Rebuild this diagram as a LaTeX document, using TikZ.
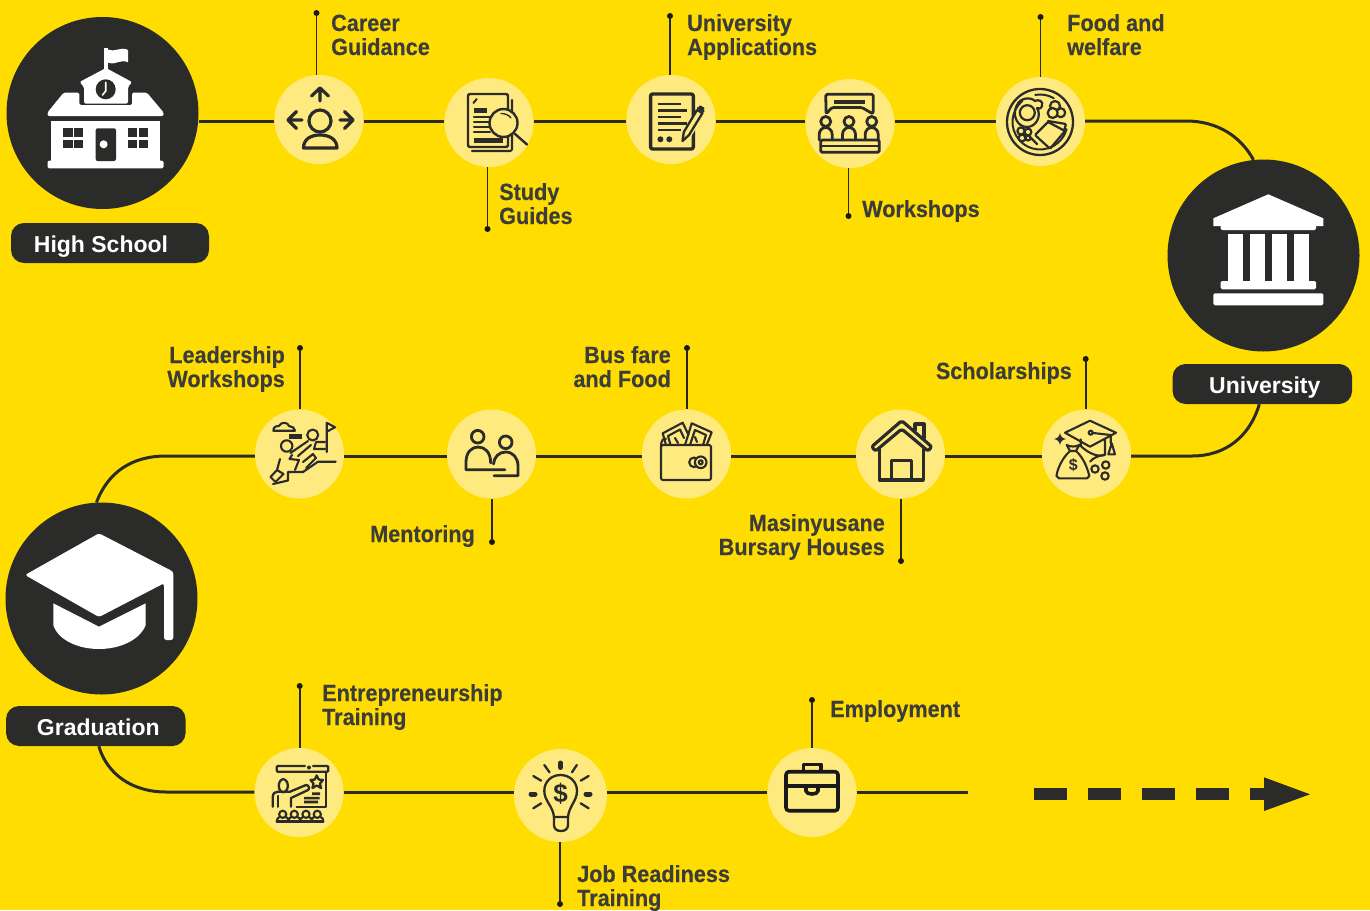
\documentclass[tikz,border=0pt]{standalone}
\usepackage{fontspec}
\setmainfont{Liberation Sans}
\newfontfamily\labfont[FakeStretch=0.925,BoldFeatures={FakeStretch=0.925,FakeBold=0.3}]{Liberation Sans}
\definecolor{bgyellow}{HTML}{FFDD00}
\definecolor{softyellow}{HTML}{FFEA80}
\definecolor{inkdark}{HTML}{2B2B2A}
\definecolor{labgrey}{HTML}{3C3C3B}
\tikzset{
  x=1pt,y=-1pt,
  softdisc/.style={circle,fill=softyellow,minimum size=89pt,inner sep=0pt},
  hubdisc/.style={circle,fill=inkdark,minimum size=192pt,inner sep=0pt},
  pill/.style={rectangle,rounded corners=13pt,fill=inkdark,text=white,minimum height=40pt,inner sep=0pt,text height=19pt,text depth=0pt,font=\bfseries\fontsize{23}{24}\selectfont},
  lab/.style={inner sep=0pt,text=labgrey,font=\labfont\bfseries\fontsize{23.4}{24}\selectfont},
  labl/.style={lab,align=left,anchor=base west},
  labr/.style={lab,align=right,anchor=base east},
  dotend/.style={circle,fill=black!90,minimum size=6pt,inner sep=0pt},
  lead/.style={draw=black!85,line width=1.7pt},
  mainline/.style={draw=inkdark,line width=3pt},
  ico/.style={draw=inkdark,line width=2.8pt,line join=round,line cap=round},
  icothin/.style={draw=inkdark,line width=2.1pt,line join=round,line cap=round},
}
\begin{document}
\begin{tikzpicture}
\useasboundingbox (0,0) rectangle (1370,910);
\fill[bgyellow] (0,0) rectangle (1370,910);
% ---------- nodes
\coordinate (l1) at (0,121);
\coordinate (l2) at (0,456);
\coordinate (l3) at (0,792);
\node[hubdisc] (hs) at (102.5,113) {};
\node[hubdisc] (uni) at (1263.5,255.5) {};
\node[hubdisc] (grad) at (101.5,598.5) {};
\node[pill,minimum width=198pt] (hsp) at (110,243) {\hspace*{-18pt}High School};
\node[pill,minimum width=179.5pt] (unip) at (1262.3,384) {\hspace*{5pt}University};
\node[pill,minimum width=179.5pt] (gradp) at (95.8,726) {\hspace*{5pt}Graduation};
\node[softdisc] (cg) at (319,119.5) {};
\node[softdisc] (sg) at (489,122.5) {};
\node[softdisc] (ua) at (671,119.5) {};
\node[softdisc] (ws) at (850,123.5) {};
\node[softdisc] (fw) at (1040.5,121.5) {};
\node[softdisc] (lw) at (299.5,454) {};
\node[softdisc] (mt) at (491.5,454) {};
\node[softdisc] (bf) at (686.5,454) {};
\node[softdisc] (mb) at (900.5,454) {};
\node[softdisc] (sc) at (1086.5,454) {};
\node[softdisc] (et) at (299,792.5) {};
\node[softdisc,minimum size=93pt] (jr) at (560.5,795.5) {};
\node[softdisc] (em) at (812,792.5) {};
\coordinate (lineEnd) at (968,792);
% ---------- main route
\draw[mainline] (hs.east |- l1) -- (cg.west |- l1);
\draw[mainline] (cg.east |- l1) -- (sg.west |- l1);
\draw[mainline] (sg.east |- l1) -- (ua.west |- l1);
\draw[mainline] (ua.east |- l1) -- (ws.west |- l1);
\draw[mainline] (ws.east |- l1) -- (fw.west |- l1);
\draw[mainline] (fw.east |- l1) -- (1186,121) .. controls (1218,121) and (1241,137) .. (uni.96);
\draw[mainline] ([xshift=-3pt]unip.south) .. controls (1250,436) and (1226,456) .. (1192,456) -- (sc.east |- l2);
\draw[mainline] (sc.west |- l2) -- (mb.east |- l2);
\draw[mainline] (mb.west |- l2) -- (bf.east |- l2);
\draw[mainline] (bf.west |- l2) -- (mt.east |- l2);
\draw[mainline] (mt.west |- l2) -- (lw.east |- l2);
\draw[mainline] (lw.west |- l2) -- (166,456) .. controls (132,456) and (108,472) .. (grad.93);
\draw[mainline] ([xshift=3pt]gradp.south) .. controls (107,774) and (132,792) .. (166,792) -- (et.west |- l3);
\draw[mainline] (et.east |- l3) -- (jr.west |- l3);
\draw[mainline] (jr.east |- l3) -- (em.west |- l3);
\draw[mainline] (em.east |- l3) -- (lineEnd);
% dashed arrow
\coordinate (dashS) at (1034.3,794);
\coordinate (dashE) at (1266,794);
\draw[inkdark,line width=11.7pt,dash pattern=on 32.7pt off 21.3pt] (dashS) -- (dashE);
\fill[inkdark] (1264,777.3) -- (1310,794.3) -- (1264,811) -- cycle;
% ---------- leaders
\node[dotend] (dcg) at (316.5,13) {};  \draw[lead] (dcg) -- (dcg |- cg.north);
\node[dotend] (dsg) at (487.5,229) {}; \draw[lead] (dsg) -- (dsg |- sg.south);
\node[dotend] (dua) at (670,16) {};    \draw[lead] (dua) -- (dua |- ua.north);
\node[dotend] (dws) at (848.5,216) {}; \draw[lead] (dws) -- (dws |- ws.south);
\node[dotend] (dfw) at (1040.5,17) {}; \draw[lead] (dfw) -- (dfw |- fw.north);
\node[dotend] (dlw) at (300,348) {};   \draw[lead] (dlw) -- (dlw |- lw.north);
\node[dotend] (dmt) at (492,542) {};   \draw[lead] (dmt) -- (dmt |- mt.south);
\node[dotend] (dbf) at (687,348) {};   \draw[lead] (dbf) -- (dbf |- bf.north);
\node[dotend] (dmb) at (901,561) {};   \draw[lead] (dmb) -- (dmb |- mb.south);
\node[dotend] (dsc) at (1085.7,359) {};\draw[lead] (dsc) -- (dsc |- sc.north);
\node[dotend] (det) at (299.7,686) {}; \draw[lead] (det) -- (det |- et.north);
\node[dotend] (djr) at (560,904) {};   \draw[lead] (djr) -- (djr |- jr.south);
\node[dotend] (dem) at (812,700) {};   \draw[lead] (dem) -- (dem |- em.north);
% ---------- labels (anchor is the baseline of the last line)
\node[labl] (tcg) at (331,55) {Career\\Guidance};
\node[labl] (tsg) at (499,224) {Study\\Guides};
\node[labl] (tua) at (687,55) {University\\Applications};
\node[labl] (tws) at (862,217) {Workshops};
\node[labl] (tfw) at (1067,55) {Food and\\welfare};
\node[labr] (tlw) at (285,387) {Leadership\\Workshops};
\node[labr] (tmt) at (475,542) {Mentoring};
\node[labr] (tbf) at (671,387) {Bus fare\\and Food};
\node[labr] (tmb) at (885,555) {Masinyusane\\Bursary Houses};
\node[labr] (tsc) at (1072,379) {Scholarships};
\node[labl] (tet) at (322,725) {Entrepreneurship\\Training};
\node[labl] (tjr) at (577,906) {Job Readiness\\Training};
\node[labl] (tem) at (830,717) {Employment};
% ---------- school icon
\fill[white] (104.3,48.3) rectangle (108.2,72);
\fill[white] (108,49.5) .. controls (114,53) and (121,46) .. (128,50) -- (128,62.3) .. controls (121,58.5) and (114,66) .. (108,62.7) -- cycle;
\fill[white,rounded corners=1.5pt] (106,68) -- (132,82) -- (128,87) -- (128,103.5) -- (84,103.5) -- (84,87) -- (79.5,82) -- cycle;
\fill[white,rounded corners=1.5pt] (47.5,116) -- (47.5,112.5) -- (63.6,92.7) -- (79.3,92.7) -- (79.3,105) -- (132,105) -- (132,92.7) -- (147,92.7) -- (163.6,112.5) -- (163.6,116) -- cycle;
\fill[white] (51,120.7) rectangle (160,161);
\fill[white,rounded corners=1.5pt] (47.5,160.7) rectangle (163.6,168.3);
\fill[inkdark] (105.7,89.3) circle (10pt);
\draw[white,line width=1.6pt,line cap=round] (105.7,82.5) -- (105.7,91) -- (102.5,95);
\foreach \xa/\xb in {63.2/72.5,74/83.2,127.9/137,138.6/147.9}{
  \fill[inkdark] (\xa,128.3) rectangle (\xb,136.7);
  \fill[inkdark] (\xa,140) rectangle (\xb,148.3);}
\fill[inkdark,rounded corners=2pt] (95.7,161) -- (95.7,128.3) -- (116,128.3) -- (116,161) -- cycle;
\fill[white] (103.6,144.3) circle (4pt);
% ---------- university icon
\fill[white] (1268.3,194.3) -- (1323.3,218.3) -- (1323.3,226) -- (1213.3,226) -- (1213.3,218.3) -- cycle;
\fill[white,rounded corners=1.5pt] (1220.7,225) rectangle (1316,230);
\foreach \xa/\xb in {1228.3/1242.7,1250/1264.7,1272.3/1287,1294.3/1308.7}{\fill[white] (\xa,234) rectangle (\xb,282);}
\fill[white,rounded corners=1.5pt] (1220.7,281) rectangle (1316,289.3);
\fill[white,rounded corners=1.5pt] (1213.3,293.3) rectangle (1323.3,305.3);
% ---------- graduation icon
\fill[white,rounded corners=2.5pt] (99,533.3) -- (173.3,571.7) -- (173.3,640) -- (164,640) -- (164,583.3) -- (99,617) -- (25,575) -- cycle;
\fill[white] (53.3,603.3) -- (99,626.7) -- (145.7,603.3) -- (145.7,625) .. controls (140,640) and (120,649) .. (99,649) .. controls (78,649) and (58,640) .. (53.3,625) -- cycle;
% ---------- career icon
\begin{scope}[ico,line width=3.2pt]
\draw (320,88) -- (320,101) (311.5,96) -- (320,88) -- (328.5,96);
\draw (288,120) -- (302,120) (296.5,111.5) -- (288,120) -- (296.5,128.5);
\draw (353,120) -- (340,120) (344.5,111.5) -- (353,120) -- (344.5,128.5);
\draw (320,121) circle (11pt);
\draw (303.5,148) .. controls (303.5,139) and (311,135) .. (320,135) .. controls (329,135) and (337,139) .. (337,148) -- cycle;
\end{scope}
% ---------- study icon
\draw[ico,line width=2.1pt,rounded corners=1.5pt] (512,100) -- (512,151) -- (472,151);
\draw[ico,line width=2.4pt,rounded corners=2pt,fill=softyellow] (468,94) rectangle (508,147);
\draw[ico,line width=2pt] (473.5,103) -- (476.7,99);
\fill[inkdark] (474,108) rectangle (487,113);
\draw[ico,line width=2.1pt] (474,116.7) -- (492,116.7) (474,121.7) -- (490,121.7) (474,126.7) -- (490,126.7) (474,132) -- (490,132);
\fill[inkdark] (474,138) rectangle (503,143.3);
\draw[ico,line width=2.4pt,fill=softyellow] (503.5,123) circle (14pt);
\draw[ico,line width=2.4pt] (515,134) -- (527,144.5);
\draw[ico,line width=1.3pt] (501,113.5) .. controls (505,113.5) and (509,115) .. (511,118);
% ---------- application icon
\draw[ico,line width=3.4pt,rounded corners=2pt] (650.6,94) rectangle (693.3,149);
\draw[ico,line width=2.5pt,line cap=butt] (657.5,104) -- (681,104) (657.5,110.7) -- (687,110.7) (657.5,117) -- (681,117) (657.5,123.7) -- (687,123.7) (657.5,130) -- (681,130);
\fill[inkdark] (660.4,139.3) circle (3pt) (669.3,139.3) circle (3pt);
\draw[softyellow,line width=9pt,line cap=butt] (683.5,140) -- (700,114);
\draw[ico,line width=2.3pt,fill=softyellow] (682.5,141) -- (683.8,132) -- (697,110) -- (702.5,113) -- (689,135) -- cycle;
\draw[ico,line width=2.3pt] (698,108) -- (703.5,111) (700,106.5) -- (703.5,108.5);
% ---------- workshop icon
\draw[ico,rounded corners=1.5pt] (832,107.5) -- (826,114) -- (826,107) -- (825.7,94.3) -- (873.3,94.3) -- (873.3,107) -- (873,114) -- (862,107.5) -- cycle;
\fill[inkdark] (834,100) rectangle (865,104.3);
\foreach \px in {825.7,849,871.7}{
  \draw[ico,fill=softyellow] (\px,121.5) circle (5pt);
  \draw[ico,fill=softyellow] (\px-6.5,140) -- (\px-6.5,134.5) .. controls (\px-6.5,130) and (\px-3,127.5) .. (\px,127.5) .. controls (\px+3,127.5) and (\px+6.5,130) .. (\px+6.5,134.5) -- (\px+6.5,140);}
\draw[ico,rounded corners=1.5pt] (820.7,140) rectangle (879.3,152.3);
\draw[ico,line width=2.1pt] (820.7,146) -- (879.3,146);
% ---------- food icon
\draw[ico,line width=2.3pt] (1040,122) circle (33pt);
\draw[ico,line width=2pt] (1040,122) ++(130:27.5pt) arc[start angle=130,end angle=345,radius=27.5pt];
\draw[ico,line width=2pt] (1040,122) ++(60:27.5pt) arc[start angle=60,end angle=100,radius=27.5pt];
\draw[ico,line width=2.2pt] (1027.3,112.7) circle (7.5pt);
\draw[ico,line width=2.2pt] (1016.5,106) .. controls (1020,97) and (1031,97) .. (1035,101) .. controls (1038,99) and (1044,101) .. (1042,106) .. controls (1041,109) and (1038,109) .. (1037,108) .. controls (1042,116) and (1036,127) .. (1027,127) .. controls (1017,127) and (1012,115) .. (1016.5,106) -- cycle;
\draw[ico,line width=2.2pt] (1055,106) circle (5pt) (1060.7,112.7) circle (4.5pt);
\draw[ico,line width=2.2pt,fill=softyellow] (1052.7,113) circle (5pt);
\draw[ico,line width=2.2pt,rounded corners=1pt] (1048,121) -- (1066,124) -- (1064,131) (1048,122) -- (1065,131) -- (1050,148.7) -- (1035,135) -- cycle;
\draw[ico,line width=2.2pt] (1021,131) circle (3.6pt) (1028,132) circle (3.4pt) (1022,138) circle (3.4pt) (1028,138) circle (2.5pt);
\draw[ico,line width=2.2pt] (1030,137) -- (1037,144);
% ---------- leadership icon
\begin{scope}[icothin]
\draw (273.3,430.7) .. controls (273,426) and (278,426) .. (279,426) .. controls (281,421.5) and (288,422) .. (289,426) .. controls (292,426) and (295,428) .. (295,430.7) -- cycle;
\fill[inkdark,draw=none] (289.3,434) rectangle (302,438.7);
\draw (312.7,435) circle (5.5pt) (286.7,446) circle (5.7pt);
\draw (326.7,452) -- (326.7,422.7) -- (335,427.3) -- (326.7,431.7);
\draw (273,484) -- (288,480.5) -- (288,472) -- (303,472) -- (318,461.7) -- (335.7,461.7);
\draw (308,441) -- (290.5,453) (311,445) -- (298,456) (316,442) -- (325,442) (316,442) -- (314,449) -- (325,449);
\draw (280,459) -- (277,470) -- (283.5,474) -- (275.5,482) -- (270.5,477) -- (277,470);
\draw (292,455) -- (289.5,459) (289.5,459) -- (299,460) -- (295,470);
\draw (303,462) -- (313,454) -- (316,458) -- (306,468);
\end{scope}
% ---------- mentoring icon
\begin{scope}[ico]
\draw (477.7,436.7) circle (6.3pt) (505.7,442.3) circle (6.3pt);
\draw (505,469.7) -- (466,469.7) -- (466,462) .. controls (466,452) and (472,447) .. (478,447) .. controls (485,447) and (490.5,452) .. (490.7,463);
\draw (493.5,464) .. controls (494,457) and (499,452) .. (505.7,452) .. controls (513,452) and (518,458) .. (518,466) -- (518,475.7) -- (494,475.7);
\end{scope}
% ---------- wallet icon
\begin{scope}[icothin]
\draw[rounded corners=2pt] (661,445) rectangle (711,480);
\draw (661,446) .. controls (661,440) and (664,437.5) .. (666,439);
\draw (666,445) -- (662.7,433.3) -- (682.7,422.7) -- (688.5,435) (670.5,445) -- (668,436) -- (680,429.5) -- (684,438);
\draw (685,445) -- (691.7,423.3) -- (711.7,432.3) -- (706.7,445) (690,445) -- (695,430) -- (706,435) -- (703,445);
\draw (675,438) -- (678,443) (695,437) -- (697,442);
\draw (694,462.3) circle (4.8pt);
\draw[fill=softyellow] (700.7,462.3) circle (5.8pt);
\draw (700.7,462.3) circle (2pt);
\end{scope}
% ---------- house icon
\begin{scope}[ico,line width=3.2pt]
\draw (915,430) -- (915,424) -- (924,424) -- (924,438);
\draw[rounded corners=2pt,fill=softyellow] (871.7,446.7) -- (901.7,420.7) -- (931.7,446.7) -- (928,451) -- (901.7,429) -- (875.5,451) -- cycle;
\draw (879.3,449) -- (879.3,480) -- (923.3,480) -- (923.3,449);
\draw (891.7,480) -- (891.7,460.7) -- (911.7,460.7) -- (911.7,480);
\end{scope}
% ---------- scholarship icon
\begin{scope}[icothin]
\draw (1065,432.7) -- (1090,420.7) -- (1116,432.7) -- (1090,446.7) -- cycle;
\draw (1080.7,439.5) -- (1080.7,446) .. controls (1085,450) and (1095,458) .. (1105,455) -- (1105,439.5);
\draw (1090.7,432.7) -- (1110.7,435) -- (1110.7,443.3) (1108.3,454.3) -- (1115,454.3) -- (1111.7,443.3) -- cycle;
\draw[fill=softyellow] (1090.7,432.7) circle (2pt);
\draw (1066.7,445) .. controls (1070,447) and (1076,447) .. (1079.3,445) -- (1076,451) -- (1070,451) -- cycle;
\draw (1070,451) .. controls (1062,458) and (1057,470) .. (1056.5,476) -- (1059,478.3) -- (1087,478.3) -- (1089.3,476) .. controls (1088,470) and (1084,458) .. (1076,451);
\draw (1105.7,465) circle (3.7pt) (1095,469) circle (3.7pt) (1105,476) circle (3.7pt);
\draw (1090,461.7) .. controls (1093,458) and (1098,456) .. (1103,455);
\fill[inkdark,draw=none] (1060,433) .. controls (1061,437) and (1062,438) .. (1066,439) .. controls (1062,440) and (1061,441) .. (1060,445) .. controls (1059,441) and (1058,440) .. (1054,439) .. controls (1058,438) and (1059,437) .. (1060,433) -- cycle;
\end{scope}
\node[inner sep=0pt,text=inkdark,font=\bfseries\fontsize{16}{17}\selectfont] (dollarA) at (1073.3,465) {\$};
% ---------- entrepreneurship icon
\begin{scope}[icothin,line width=2.3pt]
\draw[rounded corners=1pt] (305,766) -- (276.7,766) -- (276.7,771.7) -- (328.3,771.7) -- (328.3,766) -- (313,766);
\fill[inkdark,draw=none] (309,767.5) circle (2pt);
\draw (325.7,771.7) -- (325.7,806.7) -- (296.7,806.7);
\draw (283.3,785.7) ellipse (4.5pt and 6.5pt);
\draw (272.7,806.7) -- (272.7,797) .. controls (273,793) and (275,791.7) .. (278,791.7) -- (290,791.7) -- (306,785) .. controls (309,785) and (310,789) .. (308,790) -- (291,798) -- (291,806.7);
\draw (278,796) -- (278,806.7);
\draw (316.7,775.5) -- (318.7,779.5) -- (323,780) -- (320,783.5) -- (321,788) -- (316.7,785.5) -- (312.5,788) -- (313.5,783.5) -- (310.5,780) -- (314.8,779.5) -- cycle;
\end{scope}
\fill[inkdark] (312,792.3) rectangle (320,795) (304,796.8) rectangle (319.5,799.3) (304,800.7) rectangle (318,803.3);
\foreach \px in {282.7,294.3,306,317.3}{
  \draw[icothin] (\px,814.3) circle (3.6pt);
  \draw[icothin] (\px-6,821.5) .. controls (\px-5.5,817.5) and (\px-3,817) .. (\px-3,817) (\px+3,817) .. controls (\px+5,817) and (\px+6,819) .. (\px+6,821.5);
}
\draw[icothin] (276.7,821.5) -- (323.3,821.5);
% ---------- bulb icon
\begin{scope}[icothin,line width=2.3pt]
\draw (554,817) .. controls (553,806) and (544.3,801) .. (544.3,791) .. controls (544.3,781) and (552,775) .. (560.5,775) .. controls (569,775) and (577,781) .. (577,791) .. controls (577,801) and (569,806) .. (568,817) -- cycle;
\draw (554,817) -- (554,825) .. controls (554,829) and (557,831) .. (561,831) .. controls (565,831) and (568,829) .. (568,825) -- (568,817);
\draw (544.3,765) -- (549.5,772.3) (576.8,765) -- (572,772.3) (533.3,776) -- (541.2,780.7) (588.6,776) -- (580.7,780.7) (533.3,808.3) -- (541.2,803.3) (588.6,808.3) -- (580.7,803.3);
\end{scope}
\draw[inkdark,line width=5pt,line cap=round] (560.5,763) -- (560.5,767.5) (531,794) -- (535,794) (586,794) -- (590,794);
\node[inner sep=0pt,text=inkdark,font=\bfseries\fontsize{26}{27}\selectfont] (dollarB) at (560.5,794) {\$};
% ---------- briefcase icon
\begin{scope}[ico,line width=3.6pt,draw=black!90]
\draw[rounded corners=3pt] (786,771.7) rectangle (838,810.7);
\draw (786,785.7) -- (838,785.7);
\draw (803.5,771) -- (803.5,764.5) -- (821,764.5) -- (821,771);
\draw (806,786) -- (806,791) .. controls (806,795) and (818,795) .. (818,791) -- (818,786);
\end{scope}
\end{tikzpicture}
\end{document}
